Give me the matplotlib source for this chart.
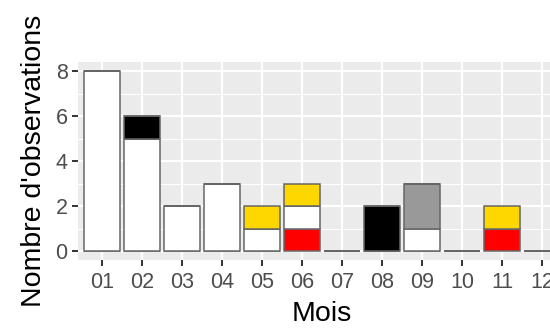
import numpy as np
import matplotlib.pyplot as plt

plt.rcParams['font.family'] = ['Liberation Sans', 'DejaVu Sans']

months = ['01', '02', '03', '04', '05', '06', '07', '08', '09', '10', '11', '12']
# stacked from bottom to top
red    = [0, 0, 0, 0, 0, 1, 0, 0, 0, 0, 1, 0]
white  = [8, 5, 2, 3, 1, 1, 0, 0, 1, 0, 0, 0]
grey   = [0, 0, 0, 0, 0, 0, 0, 0, 2, 0, 0, 0]
black  = [0, 1, 0, 0, 0, 0, 0, 2, 0, 0, 0, 0]
yellow = [0, 0, 0, 0, 1, 1, 0, 0, 0, 0, 1, 0]

series = [(red, '#FF0000'), (white, '#FFFFFF'), (grey, '#999999'),
          (black, '#000000'), (yellow, '#FFD700')]

W, H = 550, 328
fig = plt.figure(figsize=(W / 100, H / 100), dpi=100)
# panel runs past the right edge (picture is cropped)
ax = fig.add_axes([78 / W, (H - 260) / H, (566 - 78) / W, (260 - 62) / H])

x = np.arange(len(months))
bottom = np.zeros(len(months))
for vals, col in series:
    v = np.array(vals, dtype=float)
    ax.bar(x, v, width=0.9, bottom=bottom, color=col, edgecolor='#666666',
           linewidth=1.1, zorder=3)
    bottom += v

ax.set_facecolor('#EBEBEB')
ax.set_xlim(-0.6, len(months) - 1 + 0.6)
ax.set_ylim(-0.4, 8.4)
ax.set_yticks([0, 2, 4, 6, 8])
ax.set_yticks([1, 3, 5, 7], minor=True)
ax.set_xticks(x)
ax.set_xticklabels(months)
ax.grid(True, which='major', color='white', linewidth=1.6, zorder=0)
ax.grid(True, which='minor', axis='y', color='white', linewidth=0.8, zorder=0)
ax.set_axisbelow(True)
for s in ax.spines.values():
    s.set_visible(False)
ax.tick_params(which='major', length=4.5, width=1.4, color='#333333',
               labelcolor='#4D4D4D', labelsize=15.5)
ax.tick_params(axis='x', pad=4)
ax.tick_params(axis='y', pad=3)
ax.tick_params(which='minor', length=0)

ax.set_xlabel('Mois', fontsize=20.5, labelpad=6)
ax.set_ylabel("Nombre d'observations", fontsize=20.5, labelpad=6)

fig.savefig('out.png', dpi=100)
